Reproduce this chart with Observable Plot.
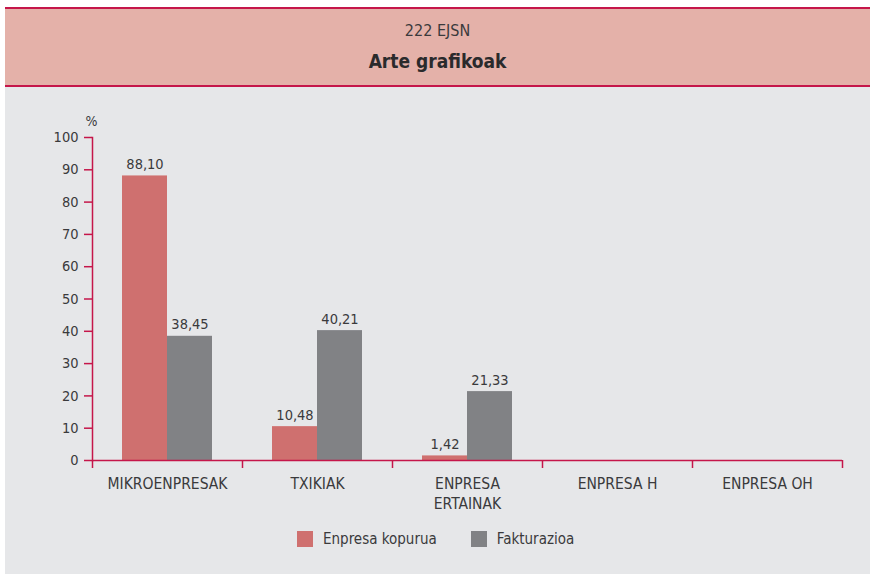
<!DOCTYPE html>
<html>
<head>
<meta charset="utf-8">
<script src="https://cdn.jsdelivr.net/npm/d3@7"></script>
<script src="https://cdn.jsdelivr.net/npm/@observablehq/plot@0.6"></script>
<style>
  html, body { margin: 0; padding: 0; background: #ffffff; }
  body { font-family: "Liberation Sans Narrow", "DejaVu Sans Condensed", "Open Sans", sans-serif; color: #3a3a3c; }
  #wrap { position: absolute; left: 5px; top: 7px; width: 865px; }
  #header { position: relative; height: 76px; background: #e4b1a9; border-top: 2px solid #c5164a; border-bottom: 2px solid #c5164a; }
  #sub { position: absolute; left: 0; right: 0; top: 12px; text-align: center; font-size: 16px; line-height: 20px; }
  #title { position: absolute; left: 0; right: 0; top: 40px; text-align: center; font-size: 19px; line-height: 24px; font-weight: bold; color: #2a2a2c; }
  #area { position: relative; height: 487px; background: #e6e7e9; }
  #legend { position: absolute; top: 443px; left: 292px; display: flex; align-items: center; font-size: 15px; }
  .item { display: flex; align-items: center; margin-right: 34px; }
  .sw { width: 16px; height: 16px; margin-right: 10px; }
</style>
</head>
<body>
<div id="wrap">
  <div id="header">
    <div id="sub"></div>
    <div id="title"></div>
  </div>
  <div id="area">
    <div id="chart"></div>
    <div id="legend"></div>
  </div>
</div>
<script>
const subtitleText = "222 EJSN";
const titleText = "Arte grafikoak";
const categories = ["MIKROENPRESAK", "TXIKIAK", "ENPRESA\nERTAINAK", "ENPRESA H", "ENPRESA OH"];
const seriesNames = ["Enpresa kopurua", "Fakturazioa"];
const enpresaKopurua = [88.10, 10.48, 1.42, null, null];
const fakturazioa = [38.45, 40.21, 21.33, null, null];
const yTicks = [0, 10, 20, 30, 40, 50, 60, 70, 80, 90, 100];
const yUnit = "%";
const seriesColors = ["#cf706f", "#818285"];
const axisColor = "#c5164a";
const textColor = "#3a3a3c";
const fontStack = '"Liberation Sans Narrow", "DejaVu Sans Condensed", "Open Sans", sans-serif';

document.getElementById("sub").textContent = subtitleText;
document.getElementById("title").textContent = titleText;

const rowsA = categories.map((c, i) => ({category: c, value: enpresaKopurua[i]})).filter(d => d.value != null);
const rowsB = categories.map((c, i) => ({category: c, value: fakturazioa[i]})).filter(d => d.value != null);
const fmt = v => v.toFixed(2).replace(".", ",");

const W = 865, H = 430, mL = 87, mR = 28, mT = 50, mB = 57;
const bw = (W - mL - mR) / categories.length;

const chart = Plot.plot({
  width: W,
  height: H,
  marginLeft: mL,
  marginRight: mR,
  marginTop: mT,
  marginBottom: mB,
  style: {background: "transparent", fontFamily: fontStack, color: textColor},
  x: {domain: categories, padding: 0},
  y: {domain: [0, 100]},
  marks: [
    Plot.barY(rowsA, {x: "category", y: "value", fill: seriesColors[0], insetLeft: bw * 0.2, insetRight: bw * 0.5}),
    Plot.barY(rowsB, {x: "category", y: "value", fill: seriesColors[1], insetLeft: bw * 0.5, insetRight: bw * 0.2}),
    Plot.text(rowsA, {x: "category", y: "value", text: d => fmt(d.value), dx: -bw * 0.15, dy: -7, lineAnchor: "bottom", fontSize: 14.5, fill: textColor}),
    Plot.text(rowsB, {x: "category", y: "value", text: d => fmt(d.value), dx: bw * 0.15, dy: -7, lineAnchor: "bottom", fontSize: 14.5, fill: textColor}),
    Plot.axisY({ticks: yTicks, tickSize: 8, tickPadding: 6, stroke: axisColor, strokeWidth: 1.5, fill: textColor, fontSize: 14.5, label: null}),
    Plot.axisX({tickSize: 0, tickPadding: 15, fontSize: 15.5, lineHeight: 1.25, fill: textColor, label: null}),
    Plot.frame({anchor: "left", stroke: axisColor, strokeWidth: 1.5}),
    Plot.ruleY([0], {stroke: axisColor, strokeWidth: 1.5}),
    Plot.ruleX(categories, {x: d => d, dx: -bw / 2, y1: 0, y2: 0, insetBottom: -8, stroke: axisColor, strokeWidth: 1.5}),
    Plot.ruleX(categories.slice(-1), {x: d => d, dx: bw / 2, y1: 0, y2: 0, insetBottom: -8, stroke: axisColor, strokeWidth: 1.5}),
    Plot.text([yUnit], {frameAnchor: "top-left", textAnchor: "middle", dx: -1, dy: -21, fontSize: 14, fill: textColor})
  ]
});
document.getElementById("chart").appendChild(chart);

const legend = document.getElementById("legend");
seriesNames.forEach((name, i) => {
  const item = document.createElement("div");
  item.className = "item";
  const sw = document.createElement("div");
  sw.className = "sw";
  sw.style.background = seriesColors[i];
  const lab = document.createElement("span");
  lab.textContent = name;
  item.appendChild(sw);
  item.appendChild(lab);
  legend.appendChild(item);
});
</script>
</body>
</html>
